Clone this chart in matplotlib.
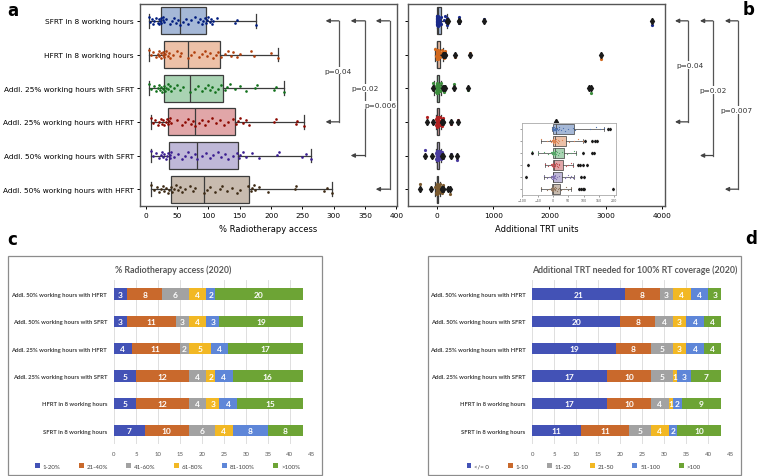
import numpy as np
import matplotlib.pyplot as plt
from matplotlib.colors import to_rgba
from matplotlib.patches import Rectangle

plt.rc("font", family="DejaVu Sans")

scenarios = ["SFRT in 8 working hours", "HFRT in 8 working hours",
             "Addl. 25% working hours with SFRT", "Addl. 25% working hours with HFRT",
             "Addl. 50% working hours with SFRT", "Addl. 50% working hours with HFRT"]

# panel a: % radiotherapy access, one value per country
access_sfrt_8h = [5, 7, 10, 12, 14, 17, 19, 21, 22, 23, 24, 25, 27, 28, 30, 33, 38, 42, 45, 48, 51, 55,
                  60, 65, 68, 72, 78, 84, 87, 90, 92, 95, 97, 98, 100, 102, 104, 106, 108, 113, 143, 145, 176]
access_hfrt_8h = [5, 8, 12, 16, 19, 21, 22, 24, 25, 27, 28, 30, 31, 33, 35, 37, 39, 44, 50, 54, 57, 67,
                  72, 77, 85, 90, 94, 98, 103, 107, 112, 116, 120, 126, 131, 136, 140, 145, 150, 168, 172, 200, 211]
access_sfrt_25 = [6, 9, 13, 17, 20, 22, 23, 25, 26, 28, 29, 31, 33, 35, 36, 38, 40, 45, 50, 55, 60, 70,
                  78, 84, 90, 95, 99, 102, 106, 110, 115, 120, 126, 130, 135, 142, 150, 160, 175, 178, 205, 208, 220]
access_hfrt_25 = [8, 11, 15, 19, 22, 24, 26, 28, 30, 32, 34, 36, 37, 38, 40, 50, 58, 63, 67, 72, 76, 79,
                  85, 90, 95, 100, 105, 112, 118, 125, 132, 140, 144, 148, 150, 155, 160, 165, 205, 208, 240, 242, 253]
access_sfrt_50 = [8, 12, 17, 22, 24, 26, 28, 30, 32, 34, 36, 38, 39, 40, 45, 52, 58, 63, 67, 72, 78, 82,
                  90, 97, 103, 108, 115, 120, 126, 132, 140, 145, 149, 150, 155, 160, 170, 180, 210, 212, 250, 255, 263]
access_hfrt_50 = [9, 14, 18, 22, 25, 28, 30, 33, 35, 37, 40, 42, 45, 48, 52, 55, 58, 62, 70, 75, 78, 93,
                  98, 103, 110, 118, 122, 130, 138, 145, 150, 163, 168, 170, 172, 175, 180, 195, 238, 240, 285, 290, 298]

# panel b: additional TRT units needed, one value per country
trt_sfrt_8h = [-3, -2, -1, -1, 0, 0, 0, 0, 0, 0, 0, 1, 2, 3, 4, 5, 6, 7, 8, 9, 10, 10, 12, 14, 16, 18, 20,
               25, 32, 40, 48, 65, 72, 120, 140, 155, 168, 180, 187, 380, 390, 838, 3822]
trt_hfrt_8h = [-40, -20, -10, -5, -3, -2, -1, 0, 0, 0, 0, 0, 0, 0, 0, 0, 0, 1, 2, 3, 4, 5, 6, 7, 8, 9, 10,
               12, 15, 17, 20, 30, 52, 70, 80, 99, 105, 128, 137, 142, 315, 588, 2912]
trt_sfrt_25 = [-67, -50, -30, -15, -8, -5, -3, -2, -1, 0, 0, 0, 0, 0, 0, 0, 0, 1, 2, 3, 4, 5, 6, 6, 7, 8, 9,
               10, 12, 16, 20, 28, 45, 60, 68, 75, 99, 126, 135, 297, 541, 2712, 2732]
trt_hfrt_25 = [-189, -82, -26, -15, -8, -5, -3, -2, -1, 0, 0, 0, 0, 0, 0, 0, 0, 0, 0, 1, 2, 3, 5, 6, 7, 8, 10,
               12, 14, 16, 18, 20, 43, 48, 58, 66, 80, 88, 99, 110, 244, 374, 2116]
trt_sfrt_50 = [-220, -89, -28, -20, -12, -8, -5, -4, -3, -2, -2, -1, -1, 0, 0, 0, 0, 0, 0, 0, 0, 0, 1, 2, 3, 4,
               6, 7, 8, 10, 12, 18, 38, 42, 50, 55, 60, 65, 70, 93, 102, 238, 345]
trt_hfrt_50 = [-308, -112, -39, -18, -12, -8, -6, -5, -4, -4, -3, -3, -2, -1, 0, 0, 0, 0, 0, 0, 0, 1, 2, 3, 5,
               6, 7, 8, 10, 12, 15, 20, 26, 35, 42, 50, 58, 86, 93, 99, 102, 196, 226]

p_rows = [3, 4, 5]
p_access = ["p=0.04", "p=0.02", "p=0.006"]
p_trt = ["p=0.04", "p=0.02", "p=0.007"]

# panel c / d: number of countries in each band (same scenario order)
access_bins = ["1-20%", "21-40%", "41-60%", "61-80%", "81-100%", ">100%"]
access_counts = [[7, 10, 6, 4, 8, 8],
                 [5, 12, 4, 3, 4, 15],
                 [5, 12, 4, 2, 4, 16],
                 [4, 11, 2, 5, 4, 17],
                 [3, 11, 3, 4, 3, 19],
                 [3, 8, 6, 4, 2, 20]]
trt_bins = ["</= 0", "1-10", "11-20", "21-50", "51-100", ">100"]
trt_counts = [[11, 11, 5, 4, 2, 10],
              [17, 10, 4, 1, 2, 9],
              [17, 10, 5, 1, 3, 7],
              [19, 8, 5, 3, 4, 4],
              [20, 8, 4, 3, 4, 4],
              [21, 8, 3, 4, 4, 3]]

access = [access_sfrt_8h, access_hfrt_8h, access_sfrt_25, access_hfrt_25, access_sfrt_50, access_hfrt_50]
trt = [trt_sfrt_8h, trt_hfrt_8h, trt_sfrt_25, trt_hfrt_25, trt_sfrt_50, trt_hfrt_50]

deep = ["#4c72b0", "#dd8452", "#55a868", "#c44e52", "#8172b3", "#937860"]
dark = ["#001c7f", "#b1400d", "#12711c", "#8c0800", "#3b1e91", "#3d2a14"]
mid = ["#1a2a8a", "#d2691e", "#3c8c3c", "#b22222", "#4b3ca0", "#7a5a30"]
xl = ["#4352b6", "#c9692c", "#a2a2a2", "#f2b824", "#5e86d8", "#6da435"]
edge = "#3c3c3c"
pos = np.arange(6)


def boxes(ax, data, lw, fms, fliers):
	bp = ax.boxplot(data, positions=pos, orientation="horizontal", widths=0.8, patch_artist=True,
	                showfliers=fliers, capwidths=0.4,
	                medianprops=dict(color=edge, lw=lw), whiskerprops=dict(color=edge, lw=lw),
	                capprops=dict(color=edge, lw=lw), boxprops=dict(edgecolor=edge, lw=lw),
	                flierprops=dict(marker="d", mfc="#1a1a1a", mec="#1a1a1a", ms=fms, zorder=5))
	for patch, c in zip(bp["boxes"], deep):
		patch.set_facecolor(to_rgba(c, 0.5))


def strip(ax, data, colors, ms, spread):
	for i, vals in enumerate(data):
		n = len(vals)
		jit = ((np.arange(n) * 0.618034) % 1 - 0.5) * spread
		ax.plot(vals, i + jit, "o", ms=ms, color=colors[i], mew=0, zorder=4)


def bracket(ax, rows, xa, xv, labels, ly, lx, fs):
	for r, x_a, x_v, lab, y, x_l in zip(rows, xa, xv, labels, ly, lx):
		ax.plot([x_v, x_v], [0, r], color="#555555", lw=0.9, clip_on=False)
		for yy in (0, r):
			ax.annotate("", xy=(x_a, yy), xytext=(x_v, yy), annotation_clip=False,
			            arrowprops=dict(arrowstyle="-|>", color="#444444", lw=0.9,
			                            mutation_scale=6, shrinkA=0, shrinkB=0))
		ax.text(x_l, y, lab, ha="center", va="center", fontsize=fs, color="#333333",
		        bbox=dict(fc="white", ec="none", pad=0.6), clip_on=False)


def frame(ax):
	for s in ax.spines.values():
		s.set_color("#555555")
		s.set_linewidth(1.0)


fig = plt.figure(figsize=(7.57, 4.77), dpi=100)

# panel a
ax_a = fig.add_axes([0.185, 0.566, 0.3395, 0.4235])
boxes(ax_a, access, 0.9, 3, False)
strip(ax_a, access, dark, 1.9, 0.24)
ax_a.set_xlim(-9, 401)
ax_a.set_ylim(5.5, -0.5)
ax_a.set_xticks(range(0, 401, 50))
ax_a.set_yticks(pos, scenarios)
ax_a.tick_params(labelsize=5.3, length=2.5, width=0.7, pad=2)
ax_a.set_xlabel("% Radiotherapy access", fontsize=6, labelpad=4)
frame(ax_a)
bracket(ax_a, p_rows, [287, 327, 367], [308, 350, 389], p_access, [1.48, 2.0, 2.5], [307, 350, 374], 5.3)

# panel b
ax_b = fig.add_axes([0.539, 0.566, 0.3395, 0.4235])
strip(ax_b, trt, mid, 2.3, 0.3)
boxes(ax_b, trt, 0.9, 3.2, True)
ax_b.set_xlim(-520, 4060)
ax_b.set_ylim(5.5, -0.5)
ax_b.set_xticks(range(0, 4001, 1000))
ax_b.set_yticks(pos, [""] * 6)
ax_b.tick_params(labelsize=5.3, length=2.5, width=0.7, pad=2)
ax_b.set_xlabel("Additional TRT units", fontsize=6, labelpad=4)
frame(ax_b)
bracket(ax_b, p_rows, [4237, 4682, 5126], [4469, 4911, 5358], p_trt, [1.31, 2.05, 2.65],
        [4501, 4911, 5340], 5.3)

# inset of panel b, zoomed on -100..200
ax_in = fig.add_axes([0.6892, 0.589, 0.1239, 0.151])
boxes(ax_in, trt, 0.5, 1.3, True)
strip(ax_in, trt, deep, 0.9, 0.3)
ax_in.set_xlim(-102, 204)
ax_in.set_ylim(5.5, -0.5)
ax_in.set_xticks(range(-100, 201, 50))
ax_in.set_yticks(pos, [""] * 6)
ax_in.tick_params(labelsize=2.3, length=1.2, width=0.4, pad=1, colors="#555555")
for s in ax_in.spines.values():
	s.set_color("#aaaaaa")
	s.set_linewidth(0.6)


# panels c and d (Excel-style stacked bars)
def stacked(ax, counts, bins, title, tx, legx):
	counts = np.array(counts)
	left = np.zeros(len(pos))
	handles = []
	for j, b in enumerate(bins):
		h = ax.barh(pos, counts[:, j], left=left, height=0.42, color=xl[j], label=b, zorder=2)
		handles.append(h)
		for i in pos:
			ax.text(left[i] + counts[i, j] / 2, i, str(counts[i, j]), ha="center", va="center",
			        color="white", fontsize=6, fontweight="bold", family="Lato", zorder=3)
		left += counts[:, j]
	ax.set_xlim(0, 45)
	ax.set_ylim(-0.5, 5.5)
	ax.set_xticks(range(0, 46, 5))
	ax.grid(axis="x", color="#d9d9d9", lw=0.6)
	ax.set_axisbelow(True)
	for s in ax.spines.values():
		s.set_visible(False)
	ax.tick_params(axis="x", length=0, labelsize=4.3, labelcolor="#595959", pad=5)
	ax.tick_params(axis="y", length=0, pad=5)
	ax.set_yticks(pos, scenarios, fontsize=4.2, color="#404040", fontweight="bold", family="Lato")
	for t in ax.get_xticklabels():
		t.set_family("Lato")
	fig.text(tx, 0.434, title, ha="center", va="center", fontsize=6.3, color="#595959",
	         fontweight="bold", family="Lato")
	leg = ax.legend(handles=handles, ncol=6, loc="center", bbox_to_anchor=(legx, 0.021),
	                bbox_transform=fig.transFigure, frameon=False, handlelength=0.8, handleheight=0.8,
	                handletextpad=0.5, columnspacing=3.0, prop=dict(family="Lato", size=4.4))
	for t in leg.get_texts():
		t.set_color("#404040")


ax_c = fig.add_axes([0.1506, 0.0662, 0.2612, 0.3438])
stacked(ax_c, access_counts, access_bins, "% Radiotherapy access (2020)", 0.2285, 0.221)
ax_d = fig.add_axes([0.7032, 0.0662, 0.2612, 0.3438])
stacked(ax_d, trt_counts, trt_bins, "Additional TRT needed for 100% RT coverage (2020)", 0.839, 0.771)

for x0, x1 in [(0.011, 0.425), (0.565, 0.979)]:
	fig.add_artist(Rectangle((x0, 0.003), x1 - x0, 0.4576, transform=fig.transFigure, fill=False,
	                         ec="#8c8c8c", lw=0.9))

for x, y, s in [(0.010, 0.995, "a"), (0.981, 0.997, "b"), (0.009, 0.515, "c"), (0.985, 0.518, "d")]:
	fig.text(x, y, s, fontsize=12, fontweight="bold", va="top")

fig.savefig("out.png", dpi=100)
